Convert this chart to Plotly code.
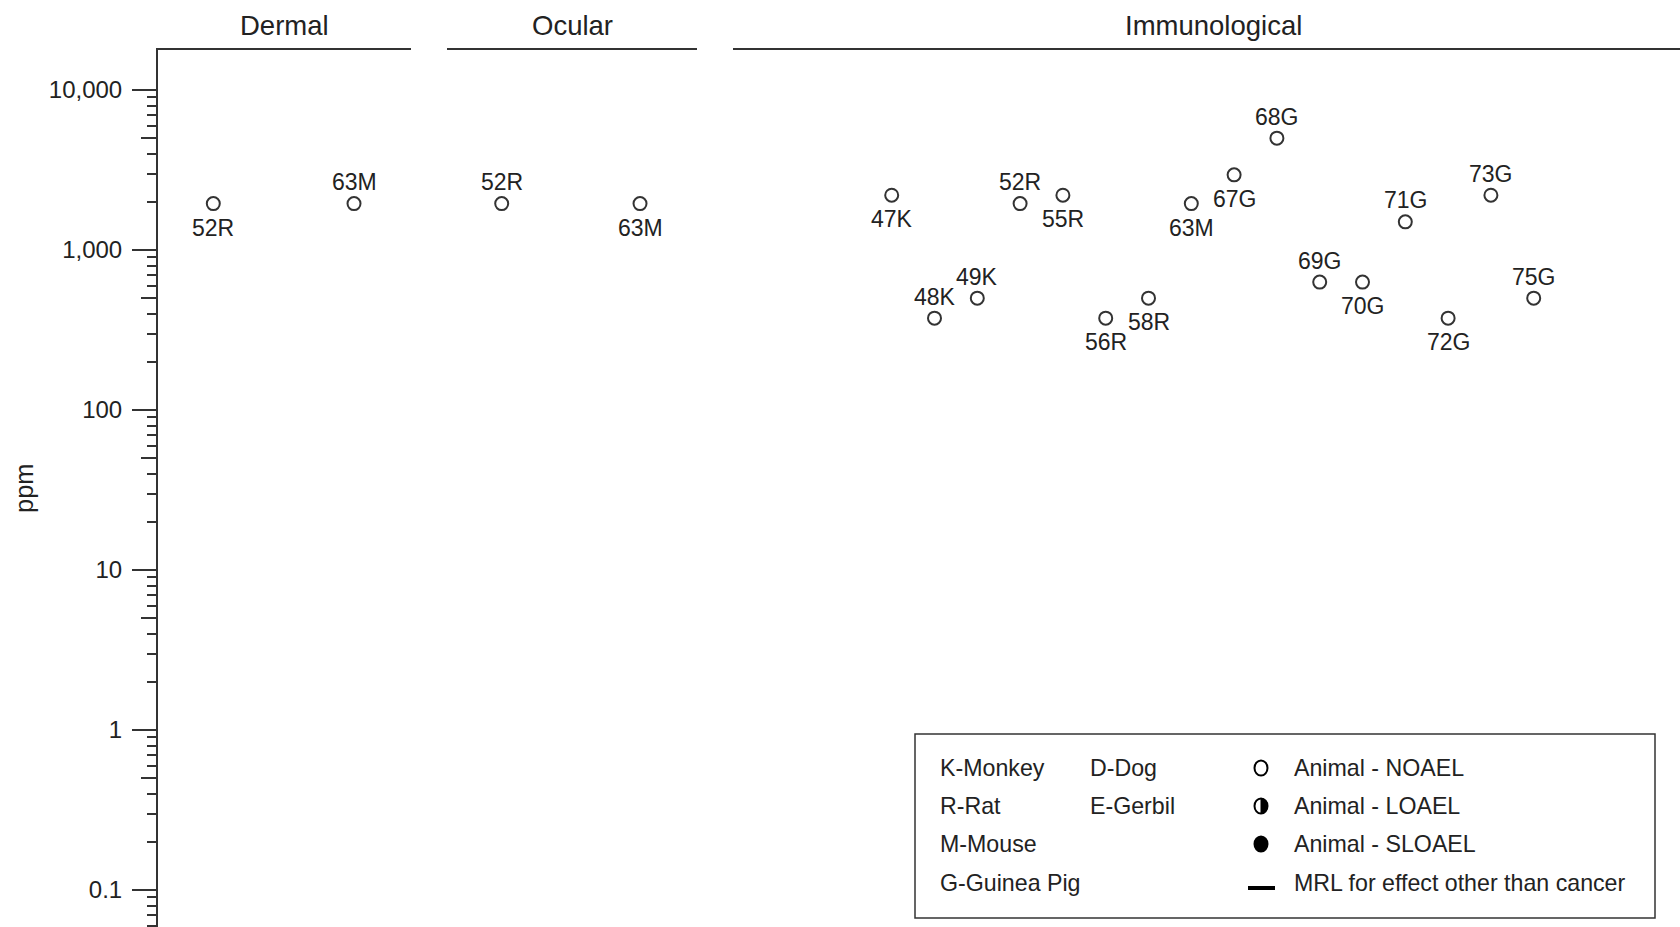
import math
import plotly.graph_objects as go

W, H = 1680, 927

# ---- data -------------------------------------------------------------
dermal_labels = ["52R", "63M"]
dermal_ppm = [1950, 1950]
dermal_side = ["below", "above"]

ocular_labels = ["52R", "63M"]
ocular_ppm = [1950, 1950]
ocular_side = ["above", "below"]

immuno_labels = ["47K", "48K", "49K", "52R", "55R", "56R", "58R", "63M",
                 "67G", "68G", "69G", "70G", "71G", "72G", "73G", "75G"]
immuno_ppm = [2200, 375, 500, 1950, 2200, 375, 500, 1950,
              2950, 5000, 630, 630, 1500, 375, 2200, 500]
immuno_side = ["below", "above", "above", "above", "below", "below", "below", "below",
               "below", "above", "above", "below", "above", "below", "above", "above"]

panel_titles = ["Dermal", "Ocular", "Immunological"]

decade_vals = [0.1, 1, 10, 100, 1000, 10000]
decade_text = ["0.1", "1", "10", "100", "1,000", "10,000"]
five_vals = [0.05, 0.5, 5, 50, 500, 5000]
minor_vals = [m * 10.0 ** e for e in range(-2, 4) for m in (2, 3, 4, 6, 7, 8, 9)]

species_col1 = ["K-Monkey", "R-Rat", "M-Mouse", "G-Guinea Pig"]
species_col2 = ["D-Dog", "E-Gerbil"]
effect_text = ["Animal - NOAEL", "Animal - LOAEL", "Animal - SLOAEL",
               "MRL for effect other than cancer"]

# ---- styling -----------------------------------------------------------
FONT = "Liberation Sans, Arial, sans-serif"
INK = "#222222"
LINE = "#333333"
Y_RANGE = [-1.23125, 4.25]
LABEL_SHIFT = {"above": 21.5, "below": -24}


def px(x):
    return x / W


def py(y):
    return 1 - y / H


fig = go.Figure()

marker = dict(symbol="circle", size=13, color="white",
              line=dict(color=LINE, width=2))

annotations = []
panels = [
    ("x", "y", dermal_labels, dermal_ppm, dermal_side),
    ("x2", "y2", ocular_labels, ocular_ppm, ocular_side),
    ("x3", "y3", immuno_labels, immuno_ppm, immuno_side),
]
for xa, ya, labels, vals, sides in panels:
    fig.add_trace(go.Scatter(
        x=labels, y=vals, mode="markers", marker=marker,
        xaxis=xa, yaxis=ya, showlegend=False, cliponaxis=False,
        hovertext=labels, hoverinfo="text+y"))
    # point labels sit just above or below their marker
    for i, (lab, v, side) in enumerate(zip(labels, vals, sides)):
        annotations.append(dict(
            text=lab, x=i, y=math.log10(v), xref=xa, yref=ya,
            xanchor="center", yanchor="middle", showarrow=False,
            yshift=LABEL_SHIFT[side],
            font=dict(family=FONT, size=23, color=INK)))

# carrier trace for the overlaid axis holding the 5x ticks
fig.add_trace(go.Scatter(x=[None], y=[None], xaxis="x", yaxis="y4",
                         showlegend=False, hoverinfo="skip"))

ydom = [0, py(50)]
xdoms = [[px(158), px(411)], [px(447), px(697)], [px(733), 1.0]]
xranges = [[-0.393, 1.405], [-0.3955, 1.412], [-3.708, 18.418]]

common_x = dict(type="category", side="top", showline=True, linecolor=LINE,
                linewidth=2, ticks="", showticklabels=False, showgrid=False,
                zeroline=False, fixedrange=True)
for i, (dom, rng) in enumerate(zip(xdoms, xranges), start=1):
    key = "xaxis" if i == 1 else f"xaxis{i}"
    fig.update_layout({key: dict(common_x, domain=dom, range=rng,
                                 anchor="y" if i == 1 else f"y{i}")})

fig.update_layout(
    yaxis=dict(type="log", domain=ydom, range=Y_RANGE, anchor="x",
               tickmode="array", tickvals=decade_vals, ticktext=decade_text,
               ticks="outside", ticklen=24, tickwidth=2, tickcolor=LINE,
               showline=True, linecolor=LINE, linewidth=2, showgrid=False,
               zeroline=False, ticklabelstandoff=5,
               tickfont=dict(family=FONT, size=24, color=INK),
               minor=dict(tickmode="array", tickvals=minor_vals, ticks="outside",
                          ticklen=9, tickwidth=2, tickcolor=LINE, showgrid=False),
               fixedrange=True),
    yaxis4=dict(type="log", range=Y_RANGE, overlaying="y", anchor="x",
                side="left", tickmode="array", tickvals=five_vals,
                ticks="outside", ticklen=16, tickwidth=2, tickcolor=LINE,
                showticklabels=False, showline=False, showgrid=False,
                zeroline=False, fixedrange=True),
)
for i in (2, 3):
    fig.update_layout({f"yaxis{i}": dict(type="log", domain=ydom, range=Y_RANGE,
                                         anchor=f"x{i}", visible=False,
                                         fixedrange=True)})


def paper_text(text, x, y, size, anchor="center", angle=0):
    return dict(text=text, x=px(x), y=py(y), xref="paper", yref="paper",
                xanchor=anchor, yanchor="middle", showarrow=False,
                textangle=angle, font=dict(family=FONT, size=size, color=INK))


# panel headings
for title, cx in zip(panel_titles, [284.5, 572, 1213]):
    annotations.append(paper_text(title, cx, 26, 27.5))
# y axis title
annotations.append(paper_text("ppm", 24, 488, 25.5, angle=-90))

# key box
row_y = [768, 806, 844, 883]
KEY_SIZE = 23.2
for txt, ry in zip(species_col1, row_y):
    annotations.append(paper_text(txt, 938, ry, KEY_SIZE, anchor="left"))
for txt, ry in zip(species_col2, row_y):
    annotations.append(paper_text(txt, 1088, ry, KEY_SIZE, anchor="left"))
for txt, ry in zip(effect_text, row_y):
    annotations.append(paper_text(txt, 1292, ry, KEY_SIZE, anchor="left"))

shapes = [dict(type="rect", xref="paper", yref="paper",
               x0=px(915), x1=px(1655), y0=py(918), y1=py(734),
               line=dict(color=LINE, width=1.5), fillcolor="white", layer="below")]

cx = 1261
rx, ry_ = 6.5, 7.5


def ellipse(cy, fill):
    return dict(type="circle", xref="paper", yref="paper",
                x0=px(cx - rx), x1=px(cx + rx), y0=py(cy + ry_), y1=py(cy - ry_),
                line=dict(color="black", width=2), fillcolor=fill)


shapes.append(ellipse(row_y[0], "white"))
shapes.append(ellipse(row_y[1], "white"))
# right half of the LOAEL symbol
pts = []
for k in range(0, 41):
    a = -math.pi / 2 + math.pi * k / 40
    pts.append((cx + rx * math.cos(a), row_y[1] + ry_ * math.sin(a)))
path = "M " + " L ".join(f"{px(x):.5f},{py(y):.5f}" for x, y in pts) + " Z"
shapes.append(dict(type="path", xref="paper", yref="paper", path=path,
                   fillcolor="black", line=dict(color="black", width=1)))
shapes.append(ellipse(row_y[2], "black"))
shapes.append(dict(type="line", xref="paper", yref="paper",
                   x0=px(1248), x1=px(1275), y0=py(888), y1=py(888),
                   line=dict(color="black", width=4)))

fig.update_layout(
    width=W, height=H, margin=dict(l=0, r=0, t=0, b=0),
    paper_bgcolor="white", plot_bgcolor="white",
    annotations=annotations, shapes=shapes, showlegend=False,
    font=dict(family=FONT, color=INK),
)

fig.write_html("out.html", config={"displayModeBar": False})
